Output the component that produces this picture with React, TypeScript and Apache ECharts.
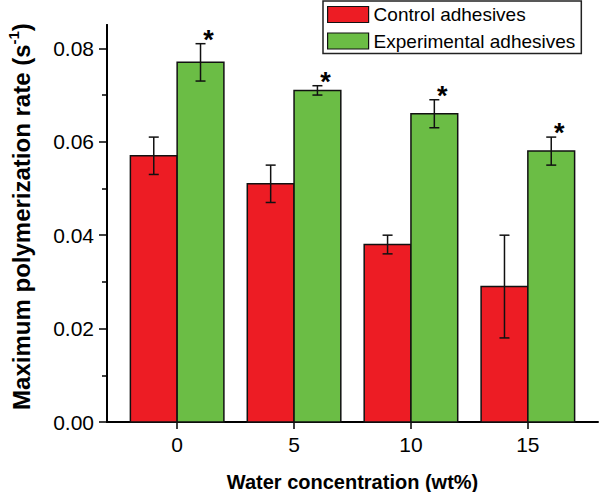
import React, { useEffect, useRef } from "react";
import * as echarts from "echarts";

const categories = [0, 5, 10, 15];
const controlMean = [0.057, 0.051, 0.038, 0.029];
const controlErr = [0.004, 0.004, 0.002, 0.011];
const expMean = [0.077, 0.071, 0.066, 0.058];
const expErr = [0.004, 0.001, 0.003, 0.003];
const expSignificant = [true, true, true, true];
const yTicks = [0, 0.02, 0.04, 0.06, 0.08];
const yMinorTicks = [0.01, 0.03, 0.05, 0.07];
const seriesNames = ["Control adhesives", "Experimental adhesives"];

const RED = "#ED1C24";
const GREEN = "#6BBD45";
const BAR_W = 2;
const FONT = "'Liberation Sans', Arial, Helvetica, sans-serif";

function barSeries(name: string, means: number[], color: string, side: number) {
  return {
    type: "custom",
    name,
    color,
    itemStyle: { color },
    data: categories.map((c, i) => [c, means[i]]),
    renderItem: (params: any, api: any) => {
      const x = api.value(0);
      const y = api.value(1);
      const a = api.coord([side < 0 ? x - BAR_W : x, y]);
      const b = api.coord([side < 0 ? x : x + BAR_W, 0]);
      return {
        type: "rect",
        shape: { x: a[0], y: a[1], width: b[0] - a[0], height: b[1] - a[1] },
        style: { fill: color, stroke: "#111", lineWidth: 1.5 },
      };
    },
    z: 2,
  };
}

function errSeries(name: string, means: number[], errs: number[], side: number, sig?: boolean[]) {
  return {
    type: "custom",
    name,
    data: categories.map((c, i) => [c + (side * BAR_W) / 2, means[i], errs[i], sig && sig[i] ? 1 : 0]),
    renderItem: (params: any, api: any) => {
      const x = api.value(0);
      const m = api.value(1);
      const e = api.value(2);
      const s = api.value(3);
      const top = api.coord([x, m + e]);
      const bot = api.coord([x, m - e]);
      const cap = 5;
      const st = { stroke: "#111", lineWidth: 1.5 };
      const children: any[] = [
        { type: "line", shape: { x1: top[0], y1: top[1], x2: bot[0], y2: bot[1] }, style: st },
        { type: "line", shape: { x1: top[0] - cap, y1: top[1], x2: top[0] + cap, y2: top[1] }, style: st },
        { type: "line", shape: { x1: bot[0] - cap, y1: bot[1], x2: bot[0] + cap, y2: bot[1] }, style: st },
      ];
      if (s) {
        children.push({
          type: "text",
          x: top[0] + 8,
          y: top[1] - 4,
          style: {
            text: "*",
            fontSize: 27,
            fontWeight: "bold",
            fontFamily: FONT,
            fill: "#000",
            align: "center",
            verticalAlign: "middle",
          },
        });
      }
      return { type: "group", children };
    },
    z: 3,
  };
}

export default function App() {
  const ref = useRef<HTMLDivElement>(null);
  useEffect(() => {
    if (!ref.current) return;
    const chart = echarts.init(ref.current, null, { renderer: "svg" });
    chart.setOption({
      animation: false,
      backgroundColor: "#fff",
      textStyle: { fontFamily: FONT },
      grid: { left: 107, right: 2, top: 25, bottom: 70, containLabel: false, outerBoundsMode: "none" },
      legend: {
        orient: "vertical",
        left: 323,
        top: 1,
        itemWidth: 41,
        itemHeight: 16,
        itemGap: 7.5,
        padding: [4, 6, 3, 4],
        borderColor: "#222",
        borderWidth: 1.5,
        data: [
          { name: seriesNames[0], icon: "rect", itemStyle: { color: RED, borderColor: "#111", borderWidth: 1.2 } },
          { name: seriesNames[1], icon: "rect", itemStyle: { color: GREEN, borderColor: "#111", borderWidth: 1.2 } },
        ],
        textStyle: { fontSize: 19, color: "#000", fontFamily: FONT, lineHeight: 16 },
      },
      xAxis: {
        type: "value",
        min: -3,
        max: 18,
        splitLine: { show: false },
        axisLine: { onZero: false, lineStyle: { color: "#000", width: 2 } },
        axisTick: { customValues: categories, length: 7, lineStyle: { color: "#000", width: 1.5 } },
        axisLabel: {
          customValues: categories,
          fontSize: 21,
          color: "#000",
          margin: 12,
          fontFamily: FONT,
        },
        name: "Water concentration (wt%)",
        nameLocation: "middle",
        nameGap: 50,
        nameMoveOverlap: false,
        nameTextStyle: { fontSize: 20, fontWeight: "bold", color: "#000", fontFamily: FONT },
      },
      yAxis: [
        {
          type: "value",
          min: 0,
          max: 0.085,
          position: "left",
          splitLine: { show: false },
          axisLine: { show: true, onZero: false, lineStyle: { color: "#000", width: 2 } },
          axisTick: { show: true, customValues: yTicks, length: 8, lineStyle: { color: "#000", width: 1.5 } },
          axisLabel: {
            customValues: yTicks,
            fontSize: 21,
            color: "#000",
            margin: 13,
            fontFamily: FONT,
            formatter: (v: number) => v.toFixed(2),
          },
          name: "{a|Maximum polymerization rate (s}{b|-1}{a|)}",
          nameLocation: "middle",
          nameGap: 74,
          nameRotate: 90,
          nameTextStyle: {
            padding: [0, 0, 0, 14],
            rich: {
              a: { fontSize: 24, fontWeight: "bold", color: "#000", fontFamily: FONT, lineHeight: 27, verticalAlign: "bottom" },
              b: { fontSize: 15, fontWeight: "bold", color: "#000", fontFamily: FONT, lineHeight: 27, verticalAlign: "top" },
            },
          },
        },
        {
          type: "value",
          min: 0,
          max: 0.085,
          position: "left",
          splitLine: { show: false },
          axisLine: { show: true, onZero: false, lineStyle: { color: "#000", width: 2 } },
          axisTick: { show: true, customValues: yMinorTicks, length: 5, lineStyle: { color: "#000", width: 1.5 } },
          axisLabel: { show: false },
        },
      ],
      series: [
        barSeries(seriesNames[0], controlMean, RED, -1),
        barSeries(seriesNames[1], expMean, GREEN, 1),
        errSeries("ctrlErr", controlMean, controlErr, -1),
        errSeries("expErr", expMean, expErr, 1, expSignificant),
      ],
    });
    return () => chart.dispose();
  }, []);
  return <div ref={ref} style={{ width: 600, height: 492, position: "absolute", left: 0, top: 0 }} />;
}
